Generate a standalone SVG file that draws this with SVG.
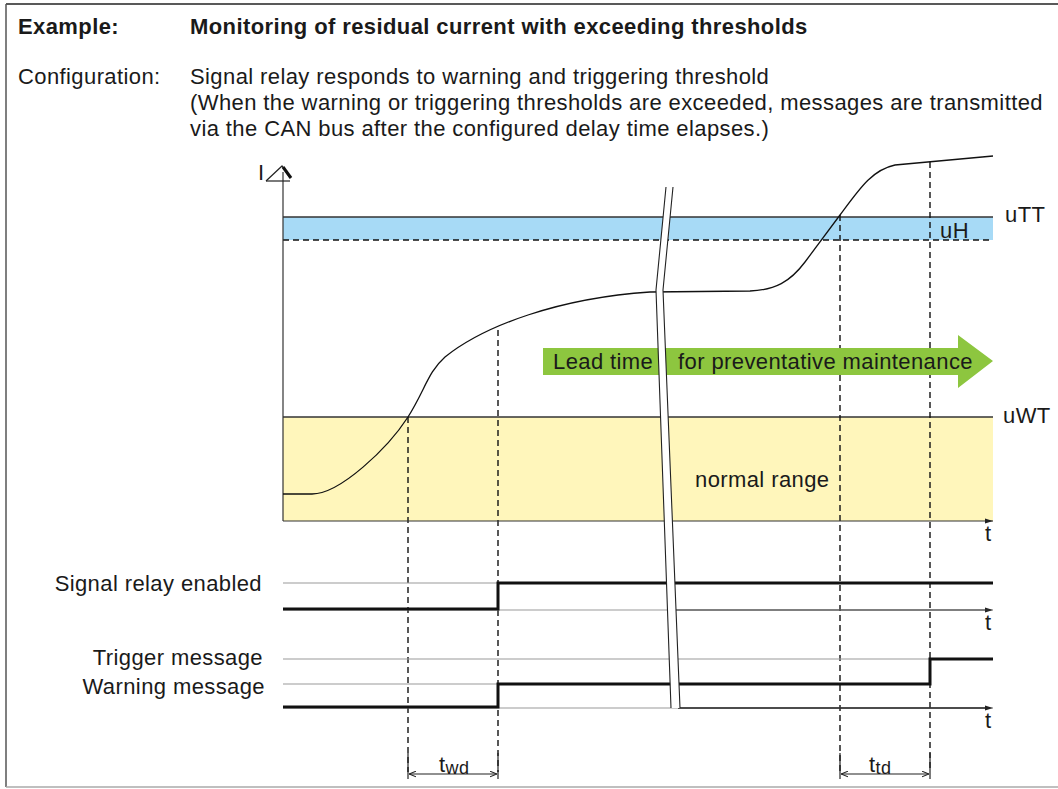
<svg xmlns="http://www.w3.org/2000/svg" width="1058" height="789" viewBox="0 0 1058 789">
<defs>
<style>
text{font-family:"Liberation Sans",Arial,sans-serif;fill:#1a1a1a;font-size:22px;letter-spacing:0.4px}
.b{font-weight:bold}
.thin{stroke:#999;stroke-width:1.2;fill:none}
.thick{stroke:#111;stroke-width:3;fill:none}
.dash{stroke:#111;stroke-width:1.4;stroke-dasharray:6,4;fill:none}
.ax{stroke:#333;stroke-width:1.2;fill:none}
</style>
<marker id="ah" viewBox="0 0 10 10" refX="10" refY="5" markerWidth="8" markerHeight="8" orient="auto" markerUnits="userSpaceOnUse"><path d="M0,2 L10,5 L0,8 Z" fill="#222"/></marker>
<marker id="dm" viewBox="0 0 10 10" refX="10" refY="5" markerWidth="7" markerHeight="7" orient="auto-start-reverse" markerUnits="userSpaceOnUse"><path d="M0,1 L10,5 L0,9" fill="none" stroke="#222" stroke-width="1.5"/></marker>
</defs>
<rect width="1058" height="789" fill="#fff"/>
<g id="frame" fill="none">
<line x1="6" y1="4" x2="1058" y2="4" stroke="#222" stroke-width="1.5"/>
<line x1="6" y1="4" x2="6" y2="787" stroke="#555" stroke-width="1.5"/>
<line x1="6" y1="787" x2="1058" y2="787" stroke="#aaa" stroke-width="1.5"/>
</g>
<g id="header">
<text x="18" y="34" class="b">Example:</text>
<text x="190" y="34" class="b">Monitoring of residual current with exceeding thresholds</text>
<text x="18" y="84">Configuration:</text>
<text x="190" y="84">Signal relay responds to warning and triggering threshold</text>
<text x="190" y="110">(When the warning or triggering thresholds are exceeded, messages are transmitted</text>
<text x="190" y="136">via the CAN bus after the configured delay time elapses.)</text>
</g>
<g id="bands">
<rect x="283" y="217" width="710" height="23" fill="#a7daf6"/>
<rect x="283" y="417" width="710" height="104" fill="#fff6bb"/>
<line x1="283" y1="217" x2="993" y2="217" stroke="#333" stroke-width="1.5"/>
<line x1="283" y1="240" x2="993" y2="240" stroke="#111" stroke-width="1.5" stroke-dasharray="6,4"/>
<line x1="283" y1="417" x2="993" y2="417" stroke="#333" stroke-width="1.5"/>
</g>
<g id="connectors">
<line x1="408" y1="417" x2="408" y2="772" class="dash"/>
<line x1="498" y1="330" x2="498" y2="772" class="dash"/>
<line x1="840" y1="215" x2="840" y2="772" class="dash"/>
<line x1="930" y1="162" x2="930" y2="772" class="dash"/>
</g>
<g id="arrow-lead">
<path d="M543,348 L958,348 L958,335 L993,361 L958,388 L958,375 L543,375 Z" fill="#8dc63f"/>
<text x="553" y="369">Lead time</text>
<text x="678" y="369">for preventative maintenance</text>
</g>
<g id="axes">
<line x1="283" y1="521" x2="283" y2="172" class="ax"/>
<path d="M266,181 L282,166 L290,178" fill="none" stroke="#222" stroke-width="1.2"/>
<path d="M283,167 L291,178" stroke="#111" stroke-width="3"/>
<line x1="266" y1="181" x2="290" y2="181" stroke="#222" stroke-width="1.2"/>
<line x1="283" y1="521" x2="993" y2="521" class="ax" marker-end="url(#ah)"/>
<text x="258" y="180">I</text>
<text x="985" y="541">t</text>
<text x="1005" y="222">uTT</text>
<text x="940" y="238">uH</text>
<text x="1003" y="423">uWT</text>
<text x="695" y="487">normal range</text>
</g>
<g id="curve">
<path d="M283,494 L312,494 C340,494 388,448 408,417 C425,390 428,372 445,357 C485,325 560,298 650,292 L750,291 C775,290 790,282 805,262 L840,215 C860,188 872,170 895,165 L993,156" fill="none" stroke="#111" stroke-width="1.3"/>
</g>
<g id="signal-relay">
<text x="262" y="591" text-anchor="end">Signal relay enabled</text>
<line x1="283" y1="583" x2="498" y2="583" class="thin"/>
<line x1="283" y1="610" x2="993" y2="610" class="thin" marker-end="url(#ah)"/>
<line x1="672" y1="610" x2="990" y2="610" stroke="#333" stroke-width="1.2"/>
<path d="M283,609 L498,609 L498,583 L993,583" class="thick"/>
<text x="985" y="630">t</text>
</g>
<g id="messages">
<text x="263" y="665" text-anchor="end">Trigger message</text>
<text x="265" y="694" text-anchor="end">Warning message</text>
<line x1="283" y1="659" x2="993" y2="659" class="thin"/>
<line x1="283" y1="684" x2="498" y2="684" class="thin"/>
<line x1="283" y1="708" x2="993" y2="708" class="thin" marker-end="url(#ah)"/>
<line x1="678" y1="708" x2="990" y2="708" stroke="#222" stroke-width="1.6"/>
<path d="M283,707 L498,707 L498,684 L930,684 L930,659 L993,659" class="thick"/>
<text x="985" y="728">t</text>
</g>
<g id="break">
<polygon points="666,187 673,187 663,290 680,708 671,708 656,290" fill="#fff"/>
<polyline points="666,187 656,290 671,708" fill="none" stroke="#222" stroke-width="1.1"/>
<polyline points="673,187 663,290 680,708" fill="none" stroke="#222" stroke-width="1.1"/>
</g>
<g id="dim-twd">
<line x1="408" y1="753" x2="408" y2="779" stroke="#222" stroke-width="1.2"/>
<line x1="498" y1="753" x2="498" y2="779" stroke="#222" stroke-width="1.2"/>
<line x1="409" y1="774" x2="497" y2="774" stroke="#222" stroke-width="1.2" marker-start="url(#dm)" marker-end="url(#dm)"/>
<text x="439" y="772">t<tspan font-size="18" dy="2">wd</tspan></text>
</g>
<g id="dim-ttd">
<line x1="840" y1="753" x2="840" y2="779" stroke="#222" stroke-width="1.2"/>
<line x1="930" y1="753" x2="930" y2="779" stroke="#222" stroke-width="1.2"/>
<line x1="841" y1="774" x2="929" y2="774" stroke="#222" stroke-width="1.2" marker-start="url(#dm)" marker-end="url(#dm)"/>
<text x="869" y="772">t<tspan font-size="18" dy="2">td</tspan></text>
</g>
</svg>
